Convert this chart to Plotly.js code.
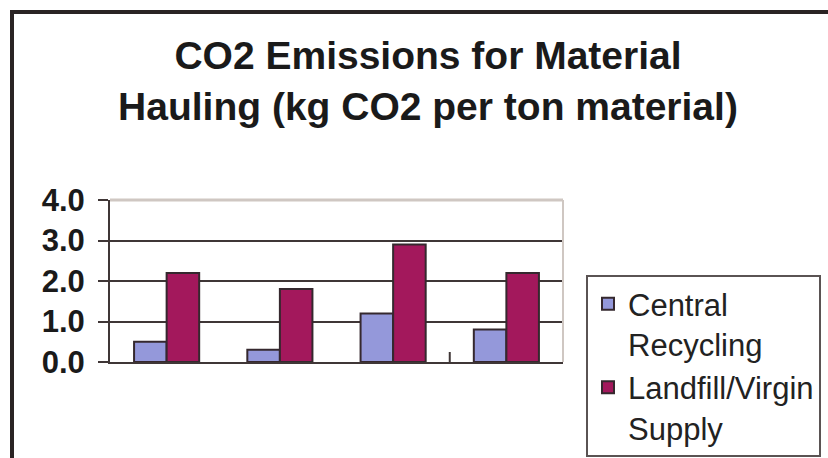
<!DOCTYPE html>
<html>
<head>
<meta charset="utf-8">
<script src="https://cdn.plot.ly/plotly-3.0.1.min.js"></script>
<style>
  html, body { margin: 0; padding: 0; background: #ffffff; }
  #chart { width: 828px; height: 458px; }
</style>
</head>
<body>
<div id="chart"></div>
<script>
// ---- data ----
const categories = ["1", "2", "3", "4"];
const centralRecycling = [0.5, 0.3, 1.2, 0.8];
const landfillVirgin = [2.2, 1.8, 2.9, 2.2];
const seriesNames = ["Central<br>Recycling", "Landfill/Virgin<br>Supply"];
const yTickVals = [0, 1, 2, 3, 4];
const yTickText = ["0.0", "1.0", "2.0", "3.0", "4.0"];
const titleText = "CO2 Emissions for Material<br>Hauling (kg CO2 per ton material)";

const FONT = "Liberation Sans, Arial, sans-serif";
const DARK = "#3f3636";
const FRAME = "#2a2424";

const traces = [
  {
    type: "bar",
    name: seriesNames[0],
    x: categories,
    y: centralRecycling,
    legendgroup: "a",
    marker: { color: "#9498da", line: { color: "#35282e", width: 2 } }
  },
  {
    type: "bar",
    name: seriesNames[1],
    x: categories,
    y: landfillVirgin,
    legendgroup: "b",
    marker: { color: "#a3185c", line: { color: "#35282e", width: 2 } }
  }
];

const layout = {
  width: 828,
  height: 458,
  paper_bgcolor: "#ffffff",
  plot_bgcolor: "#ffffff",
  margin: { l: 110, r: 265, t: 200, b: 96 },
  barmode: "group",
  bargap: 0.425,
  bargroupgap: 0,
  title: {
    text: titleText,
    font: { family: FONT, size: 39, color: "#1a1a1a", weight: "bold" },
    xref: "container", yref: "container",
    x: 428 / 828, xanchor: "center",
    y: 1 - 69 / 458, yanchor: "top"
  },
  showlegend: true,
  legend: {
    xref: "container", yref: "container",
    x: 586 / 828, xanchor: "left",
    y: 1 - 275 / 458, yanchor: "top",
    bgcolor: "#ffffff",
    bordercolor: "#5a5353",
    borderwidth: 2,
    valign: "top",
    tracegroupgap: 4,
    traceorder: "normal",
    entrywidth: 250,
    font: { family: FONT, size: 31, color: "#222222" }
  },
  xaxis: {
    type: "category",
    showticklabels: false,
    ticks: "",
    showgrid: false,
    showline: true,
    linecolor: DARK,
    linewidth: 2,
    zeroline: false,
    fixedrange: true
  },
  yaxis: {
    range: [0, 4],
    tickvals: yTickVals,
    ticktext: yTickText,
    ticks: "outside",
    ticklen: 10,
    tickwidth: 2,
    tickcolor: DARK,
    ticklabelstandoff: 7,
    showline: true,
    linecolor: DARK,
    linewidth: 2,
    showgrid: true,
    gridcolor: DARK,
    gridwidth: 2,
    zeroline: false,
    tickfont: { family: FONT, size: 31, color: "#1a1a1a", weight: "bold" },
    fixedrange: true
  },
  shapes: [
    // light plot-area border (top & right)
    { type: "line", xref: "paper", yref: "paper", x0: 0, x1: 1, y0: 1, y1: 1,
      line: { color: "#cfc7c2", width: 3 }, layer: "above" },
    { type: "line", xref: "paper", yref: "paper", x0: 1, x1: 1, y0: 0, y1: 1,
      line: { color: "#cfc7c2", width: 2 }, layer: "above" },
    // y-axis extension below the x axis
    { type: "line", xref: "paper", yref: "y", x0: 0, x1: 0,
      ysizemode: "pixel", yanchor: 0, y0: -10, y1: 0,
      line: { color: DARK, width: 2 }, layer: "above" },
    // single category tick crossing the x axis
    { type: "line", xref: "x", yref: "y", x0: 2.5, x1: 2.5,
      ysizemode: "pixel", yanchor: 0, y0: -10, y1: 10,
      line: { color: DARK, width: 2 }, layer: "above" },
    // outer chart frame: top edge and left edge
    { type: "line", xref: "paper", yref: "paper",
      x0: (10 - 110) / 453, x1: (840 - 110) / 453,
      y0: (362 - 12) / 162, y1: (362 - 12) / 162,
      line: { color: FRAME, width: 4 }, layer: "above" },
    { type: "line", xref: "paper", yref: "paper",
      x0: (12 - 110) / 453, x1: (12 - 110) / 453,
      y0: (362 - 10) / 162, y1: (362 - 470) / 162,
      line: { color: FRAME, width: 4 }, layer: "above" }
  ]
};

Plotly.newPlot("chart", traces, layout, { displayModeBar: false, staticPlot: true });
</script>
</body>
</html>
